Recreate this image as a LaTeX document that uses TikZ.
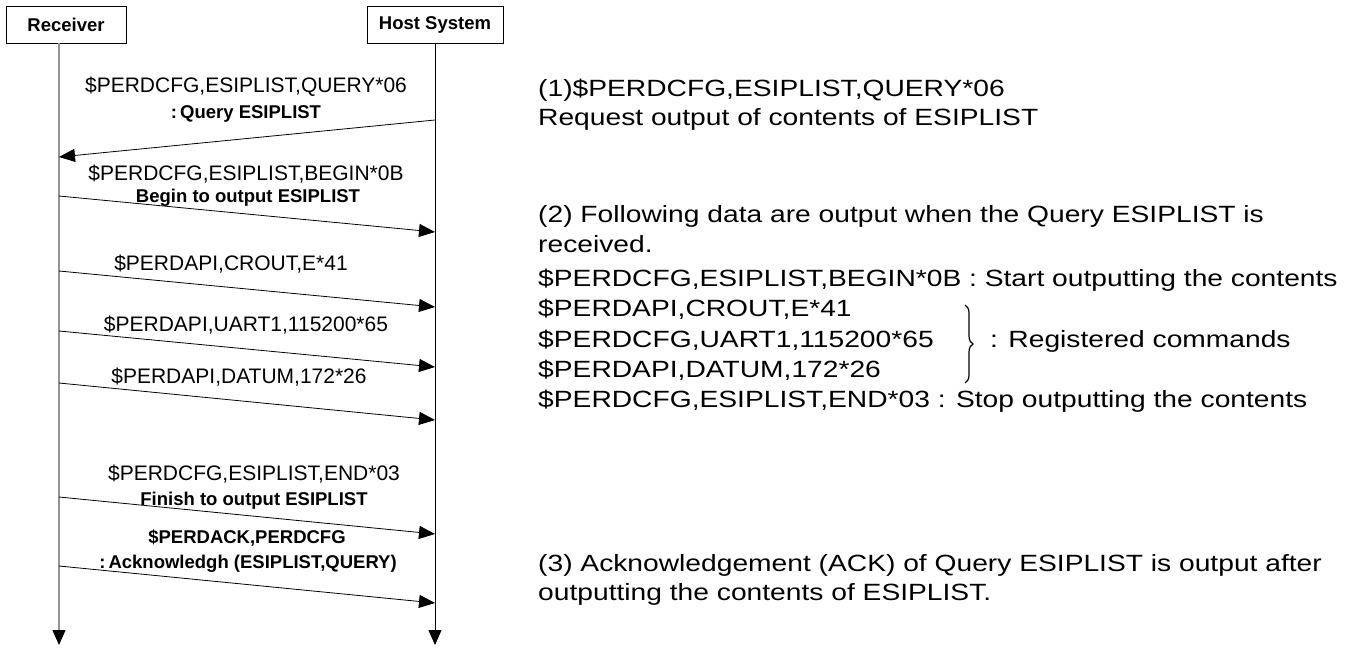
\documentclass[tikz,border=0pt]{standalone}
\usepackage{fontspec}
\setmainfont{Liberation Sans}
\newfontfamily\notefont[FakeStretch=1.2]{Liberation Sans}
\usetikzlibrary{arrows.meta,decorations.pathreplacing}

\tikzset{
    actor/.style={draw, line width=0.8pt, inner sep=0pt, minimum height=37pt,
        font=\bfseries\fontsize{18.5}{22}\selectfont},
    msg/.style={line width=0.8pt, -{Triangle[length=16pt,width=13pt]}},
    cmd/.style={inner sep=0pt, anchor=base, font=\fontsize{21}{25}\selectfont},
    cmdb/.style={inner sep=0pt, anchor=base, font=\bfseries\fontsize{18.5}{22}\selectfont},
    note/.style={inner sep=0pt, anchor=base west, font=\notefont\fontsize{23.5}{28}\selectfont}
}

\begin{document}
\begin{tikzpicture}[x=1pt,y=-1pt]
        \useasboundingbox (0,0) rectangle (1350,648);
        %Receiver / Host System
            \node [actor, minimum width=120pt] (rcv) at (66,24.5) {Receiver};
            \node [actor, minimum width=136pt] (host) at (435,24.5) {Host System};
            \coordinate (rend) at (59,645);
            \coordinate (hend) at (435,645);
            \draw [line width=1.4pt, gray!85][-{Triangle[length=15pt,width=13pt,color=black]}] (rcv.south -| rend) -- (rend);
            \draw [line width=0.8pt][-{Triangle[length=15pt,width=13pt]}] (host.south) -- (hend);
        %message ends
            \coordinate (h1) at (435,120); \coordinate (r1) at (59,157);
            \coordinate (r2) at (59,196); \coordinate (h2) at (435,232);
            \coordinate (r3) at (59,271); \coordinate (h3) at (435,307);
            \coordinate (r4) at (59,331); \coordinate (h4) at (435,367);
            \coordinate (r5) at (59,383); \coordinate (h5) at (435,420);
            \coordinate (r6) at (59,497); \coordinate (h6) at (435,534);
            \coordinate (r7) at (59,566); \coordinate (h7) at (435,603);
        %messages
            \draw [msg] (h1) -- (r1);
            \draw [msg] (r2) -- (h2);
            \draw [msg] (r3) -- (h3);
            \draw [msg] (r4) -- (h4);
            \draw [msg] (r5) -- (h5);
            \draw [msg] (r6) -- (h6);
            \draw [msg] (r7) -- (h7);
        %labels
            \node [cmd] (q1) at (246,92) {\$PERDCFG,ESIPLIST,QUERY*06};
            \node [cmdb] (q2) at (246,118) {:\,Query ESIPLIST};
            \node [cmd] (b1) at (246,180) {\$PERDCFG,ESIPLIST,BEGIN*0B};
            \node [cmdb] (b2) at (248,202) {Begin to output ESIPLIST};
            \node [cmd] (c1) at (231,270) {\$PERDAPI,CROUT,E*41};
            \node [cmd] (u1) at (246,331) {\$PERDAPI,UART1,115200*65};
            \node [cmd] (d1) at (239,383) {\$PERDAPI,DATUM,172*26};
            \node [cmd] (e1) at (254,480) {\$PERDCFG,ESIPLIST,END*03};
            \node [cmdb] (e2) at (254,505) {Finish to output ESIPLIST};
            \node [cmdb] (a1) at (247,543) {\$PERDACK,PERDCFG};
            \node [cmdb] (a2) at (248,568) {:\,Acknowledgh (ESIPLIST,QUERY)};
        %explanation
            \node [note] (t1) at (538,96) {(1)\$PERDCFG,ESIPLIST,QUERY*06};
            \node [note] (t2) at (538,125) {Request output of contents of ESIPLIST};
            \node [note] (t3) at (538,222) {(2) Following data are output when the Query ESIPLIST is};
            \node [note] (t4) at (538,252) {received.};
            \node [note] (t5) at (538,286) {\$PERDCFG,ESIPLIST,BEGIN*0B : Start outputting the contents};
            \node [note] (t6) at (538,316.5) {\$PERDAPI,CROUT,E*41};
            \node [note] (t7) at (538,347) {\$PERDCFG,UART1,115200*65};
            \node [note] (t8) at (538,377) {\$PERDAPI,DATUM,172*26};
            \node [note] (t9) at (538,407) {\$PERDCFG,ESIPLIST,END*03 : Stop outputting the contents};
            \node [note] (t10) at (538,571) {(3) Acknowledgement (ACK) of Query ESIPLIST is output after};
            \node [note] (t11) at (538,600) {outputting the contents of ESIPLIST.};
        %brace
            \coordinate (btop) at (965,305);
            \coordinate (bbot) at (965,383);
            \draw [line width=1.2pt, decorate, decoration={brace, amplitude=8pt}] (btop) -- (bbot);
            \node [note] (reg) at (990,347) {: Registered commands};
\end{tikzpicture}
\end{document}
